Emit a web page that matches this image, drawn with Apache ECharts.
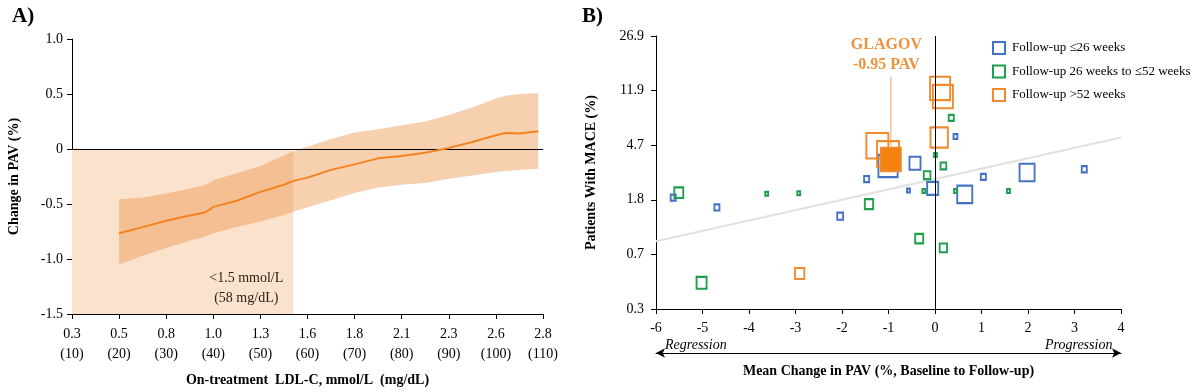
<!DOCTYPE html>
<html><head><meta charset="utf-8">
<script src="https://cdn.jsdelivr.net/npm/echarts/dist/echarts.min.js"></script>
<style>html,body{margin:0;padding:0;background:#fff}#c{width:1196px;height:392px}</style>
</head><body><div id="c"></div>
<script>
// ---------- Panel A data ----------
const ldlMmolTicks = ['0.3','0.5','0.8','1.0','1.3','1.6','1.8','2.1','2.3','2.6','2.8'];
const ldlMgTicks = ['(10)','(20)','(30)','(40)','(50)','(60)','(70)','(80)','(90)','(100)','(110)'];
const curveX     = [20, 25, 30, 35, 38, 39.5, 40, 45, 50, 55, 57, 60, 65, 70, 75, 80, 85, 90, 95, 100, 102, 105, 109];
const curveMean  = [-0.766,-0.71,-0.652,-0.605,-0.58,-0.545,-0.526,-0.47,-0.39,-0.325,-0.29,-0.26,-0.19,-0.14,-0.085,-0.063,-0.035,0.01,0.064,0.125,0.145,0.14,0.162];
const curveUpper = [-0.456,-0.44,-0.405,-0.36,-0.33,-0.30,-0.285,-0.22,-0.156,-0.06,-0.02,0.02,0.09,0.15,0.18,0.215,0.25,0.31,0.38,0.46,0.485,0.50,0.51];
const curveLower = [-1.05,-0.97,-0.90,-0.835,-0.80,-0.772,-0.765,-0.71,-0.66,-0.60,-0.57,-0.53,-0.465,-0.40,-0.35,-0.325,-0.31,-0.27,-0.24,-0.21,-0.20,-0.19,-0.18];
const shadeMgRange = [10, 57];
const shadeYRange = [-1.5, 0];
const shadeLabelPos = [47, -1.27];

// ---------- Panel B data ----------
const macTickLabels = ['0.3','0.7','1.8','4.7','11.9','26.9'];
// [mean change in PAV, MACE position on axis scale, relative study weight]
const blueStudies = [[-5.63,2.04,2],[-4.69,1.86,2],[-2.04,1.70,2.5],[-1.47,2.38,2],[-1.01,2.62,18],[-0.43,2.67,6.8],[-0.57,2.17,1],[-0.05,2.21,6.8],[0.44,3.16,1.4],[0.64,2.10,11.6],[1.04,2.42,2],[1.98,2.50,11.6],[3.21,2.56,2]];
const greenStudies = [[-5.51,2.13,4.8],[-5.02,0.48,5.8],[-3.62,2.11,1],[-2.93,2.12,1],[-1.42,1.92,4.3],[-0.34,1.29,4],[0.18,1.12,3.5],[-0.17,2.45,3],[-0.24,2.16,1],[0.01,2.82,1],[0.18,2.62,2.4],[0.35,3.50,2],[0.44,2.16,1],[1.58,2.16,1]];
const orangeStudies = [[-2.91,0.65,5.1],[-1.24,2.99,23],[-1.01,2.84,23],[0.09,3.14,15],[0.11,4.04,19.4],[0.17,3.89,19.4]];
const glagovStudy = [[-0.95,2.74,19.4]];
const glagovLabelPos = [-1.045, 4.66];
const glagovLeader = [[-0.95,4.25],[-0.95,2.98]];
const trendX = [-6, 4];
const trendY = [1.24, 3.14];
const seriesNames = ['Follow-up \u226426 weeks','Follow-up 26 weeks to \u226452 weeks','Follow-up >52 weeks'];

const FONT = 'Liberation Serif';
const BLUE = '#4472C4', GREEN = '#1E9E4E', ORANGE = '#F08A2C';

function sym(v){ const w = 5*Math.sqrt(v[2]); return [w-2, w*1.15-2]; }

const chart = echarts.init(document.getElementById('c'), null, {renderer:'canvas'});
const axisLineBlack = {show:true, onZero:false, lineStyle:{color:'#000', width:1}};
const tickBlack = {show:true, length:5, lineStyle:{color:'#000'}};

const option = {
  animation:false,
  backgroundColor:'#fff',
  textStyle:{fontFamily:FONT},
  grid:[
    {left:72, top:39, width:471, height:278},
    {left:656, top:36, width:465, height:273}
  ],
  xAxis:[
    {gridIndex:0, type:'value', min:10, max:110, interval:10,
     axisLine:axisLineBlack, axisTick:tickBlack, splitLine:{show:false},
     axisLabel:{color:'#000', fontFamily:FONT, fontSize:14, lineHeight:20, margin:10,
       formatter:v=>{const i=Math.round((v-10)/10); return ldlMmolTicks[i]+'\n'+ldlMgTicks[i];}},
     name:'On-treatment  LDL-C, mmol/L  (mg/dL)', nameLocation:'middle', nameGap:59,
     nameTextStyle:{color:'#000', fontFamily:FONT, fontSize:14, fontWeight:'bold'}},
    {gridIndex:1, type:'value', min:-6, max:4, interval:1,
     axisLine:axisLineBlack, axisTick:tickBlack, splitLine:{show:false},
     axisLabel:{color:'#000', fontFamily:FONT, fontSize:14, margin:12},
     name:'Mean Change in PAV (%, Baseline to Follow-up)', nameLocation:'middle', nameGap:55,
     nameTextStyle:{color:'#000', fontFamily:FONT, fontSize:14, fontWeight:'bold'}},
    {gridIndex:1, type:'value', min:-6, max:4, position:'bottom', offset:44,
     axisLine:{show:true, onZero:false, symbol:['arrow','arrow'], symbolSize:[7,9], lineStyle:{color:'#000', width:1}},
     axisTick:{show:false}, axisLabel:{show:false}, splitLine:{show:false}}
  ],
  yAxis:[
    {gridIndex:0, type:'value', min:-1.5, max:1, interval:0.5,
     axisLine:axisLineBlack, axisTick:tickBlack, splitLine:{show:false},
     axisLabel:{color:'#000', fontFamily:FONT, fontSize:14, margin:9,
       formatter:v=> Math.abs(v)<1e-9 ? '0' : v.toFixed(1)},
     name:'Change in PAV (%)', nameLocation:'middle', nameGap:51,
     nameTextStyle:{color:'#000', fontFamily:FONT, fontSize:14, fontWeight:'bold'}},
    {gridIndex:1, type:'value', min:0, max:5, interval:1,
     axisLine:axisLineBlack, axisTick:tickBlack, splitLine:{show:false},
     axisLabel:{color:'#000', fontFamily:FONT, fontSize:14, margin:12,
       formatter:v=> macTickLabels[Math.round(v)]},
     name:'Patients With MACE (%)', nameLocation:'middle', nameGap:58,
     nameTextStyle:{color:'#000', fontFamily:FONT, fontSize:14, fontWeight:'bold'}}
  ],
  legend:{
    left:987, top:36, orient:'vertical', itemWidth:12, itemHeight:12, itemGap:9.5,
    textStyle:{color:'#000', fontFamily:FONT, fontSize:13, padding:[0,0,0,2]},
    data:[
      {name:seriesNames[0], icon:'rect', itemStyle:{color:'#fff', borderColor:BLUE, borderWidth:2}},
      {name:seriesNames[1], icon:'rect', itemStyle:{color:'#fff', borderColor:GREEN, borderWidth:2}},
      {name:seriesNames[2], icon:'rect', itemStyle:{color:'#fff', borderColor:ORANGE, borderWidth:2}}
    ]
  },
  graphic:[
    {type:'text', left:12, top:6, style:{text:'A)', font:'bold 21px "Liberation Serif"', fill:'#000'}},
    {type:'text', left:582, top:6, style:{text:'B)', font:'bold 21px "Liberation Serif"', fill:'#000'}},
    {type:'text', left:665, top:338, style:{text:'Regression', font:'italic 14px "Liberation Serif"', fill:'#000'}},
    {type:'text', left:1045, top:338, style:{text:'Progression', font:'italic 14px "Liberation Serif"', fill:'#000'}}
  ],
  series:[
    // Panel A shaded region
    {type:'custom', xAxisIndex:0, yAxisIndex:0, z:1, silent:true, data:[0], clip:false,
     renderItem:(p, api)=>{
       const a = api.coord([shadeMgRange[0], shadeYRange[1]]);
       const b = api.coord([shadeMgRange[1], shadeYRange[0]]);
       return {type:'rect', shape:{x:a[0], y:a[1], width:b[0]-a[0], height:b[1]-a[1]}, style:{fill:'#FAE2CD'}};
     }},
    // Panel A confidence band
    {type:'custom', xAxisIndex:0, yAxisIndex:0, z:2, silent:true, data:[0], clip:false,
     renderItem:(p, api)=>{
       const pts=[];
       for(let i=0;i<curveX.length;i++) pts.push(api.coord([curveX[i], curveUpper[i]]));
       for(let i=curveX.length-1;i>=0;i--) pts.push(api.coord([curveX[i], curveLower[i]]));
       return {type:'polygon', shape:{points:pts}, style:{fill:'rgba(237,142,66,0.42)'}};
     }},
    // Panel A mean line
    {type:'line', xAxisIndex:0, yAxisIndex:0, z:5, symbol:'none', silent:true,
     data:curveX.map((x,i)=>[x, curveMean[i]]),
     lineStyle:{color:'#F5821F', width:2},
     markLine:{silent:true, symbol:'none', label:{show:false}, lineStyle:{color:'#000', width:1, type:'solid'},
       data:[{yAxis:0}], z:4}},
    // Panel A annotation
    {type:'scatter', xAxisIndex:0, yAxisIndex:0, z:6, symbolSize:0, silent:true,
     data:[shadeLabelPos], itemStyle:{opacity:1},
     label:{show:true, position:'inside', formatter:'<1.5 mmol/L\n(58 mg/dL)', color:'#2b2119',
       fontFamily:FONT, fontSize:14, lineHeight:20}},
    // Panel B trend line + zero line
    {type:'line', xAxisIndex:1, yAxisIndex:1, z:1, symbol:'none', silent:true,
     data:trendX.map((x,i)=>[x, trendY[i]]),
     lineStyle:{color:'#E0E0E0', width:2},
     markLine:{silent:true, symbol:'none', label:{show:false}, lineStyle:{color:'#000', width:1, type:'solid'},
       data:[{xAxis:0}]}},
    // GLAGOV leader line
    {type:'line', xAxisIndex:1, yAxisIndex:1, z:2, symbol:'none', silent:true,
     data:glagovLeader, lineStyle:{color:'#F6C39A', width:1.5}},
    {type:'scatter', name:seriesNames[0], xAxisIndex:1, yAxisIndex:1, z:3, symbol:'rect', symbolSize:sym,
     data:blueStudies, itemStyle:{color:'rgba(255,255,255,0)', borderColor:BLUE, borderWidth:2, opacity:1}},
    {type:'scatter', name:seriesNames[1], xAxisIndex:1, yAxisIndex:1, z:3, symbol:'rect', symbolSize:sym,
     data:greenStudies, itemStyle:{color:'rgba(255,255,255,0)', borderColor:GREEN, borderWidth:2, opacity:1}},
    {type:'scatter', name:seriesNames[2], xAxisIndex:1, yAxisIndex:1, z:3, symbol:'rect', symbolSize:sym,
     data:orangeStudies, itemStyle:{color:'rgba(255,255,255,0)', borderColor:ORANGE, borderWidth:2, opacity:1}},
    {type:'scatter', name:'GLAGOV', xAxisIndex:1, yAxisIndex:1, z:4, symbol:'rect', symbolSize:sym,
     data:glagovStudy, itemStyle:{color:'#F5820F', borderColor:ORANGE, borderWidth:2, opacity:1}},
    {type:'scatter', xAxisIndex:1, yAxisIndex:1, z:5, symbolSize:0, silent:true,
     data:[glagovLabelPos], itemStyle:{opacity:1},
     label:{show:true, position:'inside', formatter:'GLAGOV\n-0.95 PAV', color:'#F0923B',
       fontFamily:FONT, fontSize:16, fontWeight:'bold', lineHeight:20}}
  ]
};
chart.setOption(option);
</script></body></html>
